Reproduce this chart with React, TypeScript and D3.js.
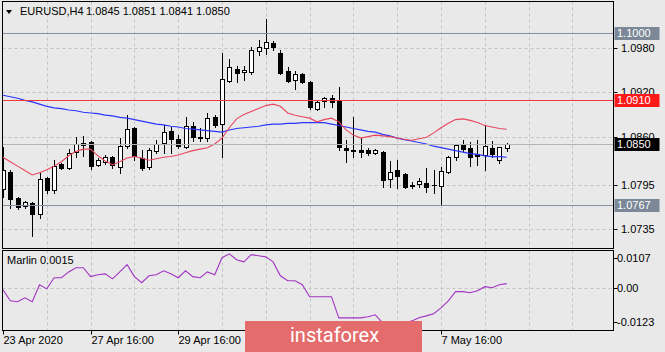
import React from 'react';
import * as d3 from 'd3';

// header
const symbolTitle = 'EURUSD,H4';
const quote = '1.0845 1.0851 1.0841 1.0850';
const marlinTitle = 'Marlin 0.0015';

// time axis: visible labels and the bar index they sit on
const timeLabels = ['23 Apr 2020', '27 Apr 16:00', '29 Apr 16:00', '7 May 16:00'];
const timeLabelBars = [0, 12, 24, 60];

// price axis
const priceTicks = [1.098, 1.092, 1.086, 1.0795, 1.0735];
const priceTickLabels = ['1.0980', '1.0920', '1.0860', '1.0795', '1.0735'];
const grayLevels = [1.1, 1.0767];
const grayLevelLabels = ['1.1000', '1.0767'];
const redLevel = 1.091;
const bidLevel = 1.085;

// oscillator axis
const marlinTicks = [0.0107, 0, -0.0123];
const marlinTickLabels = ['0.0107', '0.00', '-0.0123'];

// H4 candles
const open = [1.0789, 1.0812, 1.0777, 1.0766, 1.0770, 1.0755, 1.0804, 1.0788, 1.0823, 1.0818,
  1.0839, 1.0849, 1.0853, 1.0822, 1.0826, 1.0832, 1.0819, 1.0847, 1.0872, 1.0831,
  1.0819, 1.0841, 1.0851, 1.0868, 1.0857, 1.0846, 1.0874, 1.0859, 1.0858, 1.0887,
  1.0877, 1.0935, 1.0952, 1.0948, 1.0948, 1.0976, 1.0980, 1.0987, 1.0973, 1.0949,
  1.0937, 1.0945, 1.0934, 1.0897, 1.0908, 1.0912, 1.0908, 1.0845, 1.0842, 1.0842,
  1.0842, 1.0838, 1.0839, 1.0803, 1.0815, 1.0809, 1.0795, 1.0796, 1.0797, 1.0795,
  1.0793, 1.0812, 1.0832, 1.0849, 1.0845, 1.0836, 1.0835, 1.0845, 1.0828, 1.0845];
const high = [1.0846, 1.0815, 1.0778, 1.0773, 1.0771, 1.0811, 1.0805, 1.0828, 1.0824, 1.0843,
  1.0859, 1.0861, 1.0854, 1.0831, 1.0835, 1.0834, 1.0858, 1.0889, 1.0873, 1.0842,
  1.0845, 1.0855, 1.0876, 1.0873, 1.0862, 1.0887, 1.0880, 1.0872, 1.0892, 1.0889,
  1.0973, 1.0965, 1.0956, 1.0956, 1.0981, 1.0991, 1.1019, 1.0989, 1.0977, 1.0954,
  1.0949, 1.0946, 1.0935, 1.0910, 1.0914, 1.0916, 1.0927, 1.0855, 1.0887, 1.0858,
  1.0845, 1.0843, 1.0841, 1.0827, 1.0828, 1.0811, 1.0799, 1.0804, 1.0818, 1.0815,
  1.0819, 1.0834, 1.0850, 1.0855, 1.0853, 1.0855, 1.0876, 1.0854, 1.0846, 1.0851];
const low = [1.0778, 1.0763, 1.0762, 1.0763, 1.0725, 1.0750, 1.0784, 1.0784, 1.0816, 1.0816,
  1.0832, 1.0834, 1.0816, 1.0820, 1.0823, 1.0818, 1.0811, 1.0845, 1.0828, 1.0815,
  1.0816, 1.0838, 1.0838, 1.0838, 1.0845, 1.0845, 1.0854, 1.0854, 1.0854, 1.0873,
  1.0832, 1.0934, 1.0934, 1.0937, 1.0945, 1.0971, 1.0972, 1.0977, 1.0945, 1.0934,
  1.0924, 1.0933, 1.0897, 1.0896, 1.0900, 1.0900, 1.0842, 1.0826, 1.0832, 1.0832,
  1.0835, 1.0836, 1.0792, 1.0792, 1.0790, 1.0790, 1.0790, 1.0792, 1.0785, 1.0784,
  1.0767, 1.0811, 1.0828, 1.0841, 1.0820, 1.0822, 1.0815, 1.0832, 1.0824, 1.0841];
const close = [1.0815, 1.0776, 1.0765, 1.0771, 1.0755, 1.0803, 1.0788, 1.0820, 1.0818, 1.0838,
  1.0850, 1.0851, 1.0820, 1.0828, 1.0832, 1.0822, 1.0847, 1.0870, 1.0834, 1.0818,
  1.0842, 1.0850, 1.0866, 1.0857, 1.0847, 1.0874, 1.0859, 1.0858, 1.0885, 1.0876,
  1.0938, 1.0954, 1.0946, 1.0950, 1.0977, 1.0981, 1.0988, 1.0981, 1.0946, 1.0935,
  1.0945, 1.0934, 1.0900, 1.0907, 1.0912, 1.0907, 1.0846, 1.0842, 1.0841, 1.0839,
  1.0838, 1.0842, 1.0801, 1.0812, 1.0807, 1.0792, 1.0793, 1.0800, 1.0792, 1.0794,
  1.0813, 1.0832, 1.0849, 1.0843, 1.0832, 1.0834, 1.0847, 1.0836, 1.0846, 1.0850];

// moving averages (one value per bar)
const maSlow = [1.0916, 1.0914, 1.0912, 1.0909, 1.0907, 1.0904, 1.0901, 1.0899, 1.0898, 1.0896,
  1.0895, 1.0893, 1.0892, 1.0891, 1.0889, 1.0888, 1.0886, 1.0885, 1.0883, 1.0881,
  1.0879, 1.0877, 1.0876, 1.0874, 1.0873, 1.0871, 1.0870, 1.0869, 1.0868, 1.0867,
  1.0866, 1.0869, 1.0871, 1.0872, 1.0873, 1.0874, 1.0876, 1.0877, 1.0877, 1.0878,
  1.0878, 1.0879, 1.0879, 1.0879, 1.0879, 1.0877, 1.0875, 1.0873, 1.0871, 1.0869,
  1.0867, 1.0866, 1.0863, 1.0861, 1.0858, 1.0856, 1.0854, 1.0852, 1.0850, 1.0847,
  1.0845, 1.0843, 1.0841, 1.0839, 1.0837, 1.0836, 1.0834, 1.0833, 1.0833, 1.0832];
const maFast = [1.0832, 1.0826, 1.0820, 1.0814, 1.0808, 1.0811, 1.0815, 1.0820, 1.0826, 1.0834,
  1.0840, 1.0843, 1.0843, 1.0834, 1.0827, 1.0822, 1.0826, 1.0831, 1.0833, 1.0831,
  1.0828, 1.0830, 1.0832, 1.0833, 1.0835, 1.0838, 1.0841, 1.0843, 1.0845, 1.0850,
  1.0858, 1.0872, 1.0884, 1.0890, 1.0894, 1.0898, 1.0902, 1.0904, 1.0901, 1.0892,
  1.0889, 1.0887, 1.0885, 1.0880, 1.0883, 1.0885, 1.0880, 1.0869, 1.0862, 1.0858,
  1.0860, 1.0862, 1.0861, 1.0860, 1.0858, 1.0856, 1.0855, 1.0857, 1.0859, 1.0865,
  1.0872, 1.0878, 1.0883, 1.0884, 1.0882, 1.0879, 1.0875, 1.0873, 1.0871, 1.0870];

// Marlin oscillator
const marlin = [-0.0007, -0.0047, -0.0050, -0.0036, -0.0050, 0.0011, -0.0004, 0.0036, 0.0036, 0.0057,
  0.0072, 0.0072, 0.0040, 0.0047, 0.0050, 0.0032, 0.0057, 0.0083, 0.0040, 0.0018,
  0.0043, 0.0047, 0.0061, 0.0050, 0.0036, 0.0061, 0.0040, 0.0036, 0.0057, 0.0047,
  0.0108, 0.0122, 0.0101, 0.0093, 0.0119, 0.0115, 0.0111, 0.0093, 0.0043, 0.0025,
  0.0025, 0.0011, -0.0032, -0.0032, -0.0032, -0.0032, -0.0108, -0.0108, -0.0108, -0.0108,
  -0.0104, -0.0097, -0.0126, -0.0133, -0.0137, -0.0129, -0.0119, -0.0108, -0.0101, -0.0093,
  -0.0072, -0.0047, -0.0014, -0.0014, -0.0018, -0.0011, 0.0004, 0.0000, 0.0011, 0.0015];

const FONT = '"Liberation Sans", Arial, sans-serif';
const BG = '#e9e9e9';
const GRID = '#c3c3c3';

const App: React.FC = () => {
  const width = 665;
  const height = 352;
  const panel = { left: 2.5, right: 613.5 };
  const main = { top: 1.5, bottom: 248.5 };
  const osc = { top: 250.5, bottom: 330.5 };

  const x = d3.scaleLinear().domain([0, open.length - 1]).range([3, 506.7]);
  const y = d3.scaleLinear().domain([1.0735, 1.098]).range([228.9, 48]);
  const yo = d3.scaleLinear().domain([-0.0123, 0.0107]).range([322, 258]);

  const bars = d3.range(open.length);
  const px = (v: number) => Math.round(v) + 0.5;

  const priceLine = d3.line<number>().x((_, i) => x(i)).y(d => y(d));
  const oscLine = d3.line<number>().x((_, i) => x(i)).y(d => yo(d));

  // day separators every 6 bars
  const gridBars = d3.range(6, 84, 6).filter(i => x(i) < panel.right);

  const levelBox = (v: number, label: string, fill: string, key: string) => (
    <g key={key}>
      <rect x={614.5} y={Math.round(y(v)) - 6} width={45} height={13} fill={fill} />
      <text x={617} y={Math.round(y(v)) + 4} fill="#ffffff" fontSize={11} fontFamily={FONT}>{label}</text>
    </g>
  );

  return (
    <svg width={width} height={height} viewBox={`0 0 ${width} ${height}`}
      style={{ position: 'fixed', left: 0, top: 0, display: 'block' }}>
      <defs>
        <clipPath id="clipMain">
          <rect x={panel.left} y={main.top} width={panel.right - panel.left} height={main.bottom - main.top} />
        </clipPath>
        <clipPath id="clipOsc">
          <rect x={panel.left} y={osc.top} width={panel.right - panel.left} height={osc.bottom - osc.top} />
        </clipPath>
      </defs>
      <rect x={0} y={0} width={width} height={height} fill={BG} />

      {/* grid */}
      <g stroke={GRID} strokeDasharray="3,3" strokeWidth={1}>
        {priceTicks.map(t => (
          <line key={'h' + t} x1={panel.left} x2={panel.right} y1={px(y(t))} y2={px(y(t))} />
        ))}
        {gridBars.map(i => (
          <line key={'v' + i} x1={px(x(i))} x2={px(x(i))} y1={main.top} y2={main.bottom} />
        ))}
        <line x1={panel.left} x2={panel.right} y1={px(yo(0))} y2={px(yo(0))} />
        {gridBars.map(i => (
          <line key={'vo' + i} x1={px(x(i))} x2={px(x(i))} y1={osc.top} y2={osc.bottom} />
        ))}
      </g>

      {/* candles */}
      <g clipPath="url(#clipMain)">
        {bars.map(i => {
          const cx = px(x(i));
          const up = close[i] >= open[i];
          const top = Math.round(y(Math.max(open[i], close[i])));
          const bot = Math.round(y(Math.min(open[i], close[i])));
          return (
            <g key={i}>
              <line x1={cx} x2={cx} y1={Math.round(y(high[i]))} y2={Math.round(y(low[i])) + 1} stroke="#000" />
              <rect x={cx - 2} y={top + 0.5} width={4} height={Math.max(bot - top, 0.01)}
                fill={up ? '#ffffff' : '#000000'} stroke="#000" />
            </g>
          );
        })}

        {/* moving averages */}
        <path d={priceLine(maSlow) || ''} fill="none" stroke="#2a36ff" strokeWidth={1.2} />
        <path d={priceLine(maFast) || ''} fill="none" stroke="#e8465e" strokeWidth={1.1} />

        {/* horizontal levels */}
        {grayLevels.map(v => (
          <line key={'g' + v} x1={panel.left} x2={panel.right} y1={px(y(v))} y2={px(y(v))} stroke="#8491a0" />
        ))}
        <line x1={panel.left} x2={panel.right} y1={px(y(redLevel))} y2={px(y(redLevel))} stroke="#f03a3a" />
        <line x1={panel.left} x2={panel.right} y1={px(y(bidLevel))} y2={px(y(bidLevel))} stroke="#b4b4b4" />
      </g>

      {/* oscillator */}
      <g clipPath="url(#clipOsc)">
        <path d={oscLine(marlin) || ''} fill="none" stroke="#a234c4" strokeWidth={1.1} />
      </g>

      {/* panel frames */}
      <rect x={panel.left} y={main.top} width={panel.right - panel.left} height={main.bottom - main.top}
        fill="none" stroke="#000" />
      <rect x={panel.left} y={osc.top} width={panel.right - panel.left} height={osc.bottom - osc.top}
        fill="none" stroke="#000" />

      {/* price axis */}
      <g fontFamily={FONT} fontSize={11} fill="#000">
        {priceTicks.map((t, k) => (
          <g key={'pt' + t}>
            <line x1={panel.right} x2={panel.right + 4} y1={px(y(t))} y2={px(y(t))} stroke="#000" />
            <text x={621} y={Math.round(y(t)) + 4}>{priceTickLabels[k]}</text>
          </g>
        ))}
        {marlinTicks.map((t, k) => (
          <g key={'mt' + t}>
            <line x1={panel.right} x2={panel.right + 4} y1={px(yo(t))} y2={px(yo(t))} stroke="#000" />
            <text x={617} y={Math.round(yo(t)) + 4}>{marlinTickLabels[k]}</text>
          </g>
        ))}
      </g>
      {grayLevels.map((v, k) => levelBox(v, grayLevelLabels[k], '#7c8898', 'gl' + k))}
      {levelBox(redLevel, '1.0910', '#ff1a1a', 'rl')}
      {levelBox(bidLevel, '1.0850', '#000000', 'bl')}

      {/* time axis */}
      <g fontFamily={FONT} fontSize={11} fill="#000">
        {timeLabels.map((t, k) => {
          const tx = px(x(timeLabelBars[k]));
          return (
            <g key={t}>
              <line x1={tx} x2={tx} y1={osc.bottom} y2={osc.bottom + 4} stroke="#000" />
              <text x={tx} y={344}>{t}</text>
            </g>
          );
        })}
      </g>

      {/* titles */}
      <path d="M6,10 L12,10 L9,14 Z" fill="#000" />
      <text x={20} y={15} fontFamily={FONT} fontSize={11} fill="#000">{symbolTitle}</text>
      <text x={86} y={15} fontFamily={FONT} fontSize={11} fill="#000">{quote}</text>
      <text x={7} y={264} fontFamily={FONT} fontSize={11} fill="#000">{marlinTitle}</text>

      {/* watermark banner */}
      <rect x={245} y={321} width={177} height={31} fill="#e56c6c" />
      <text x={290} y={342} fontFamily="Roboto, sans-serif" fontSize={20} fill="#ffffff">instaforex</text>
    </svg>
  );
};

export default App;
